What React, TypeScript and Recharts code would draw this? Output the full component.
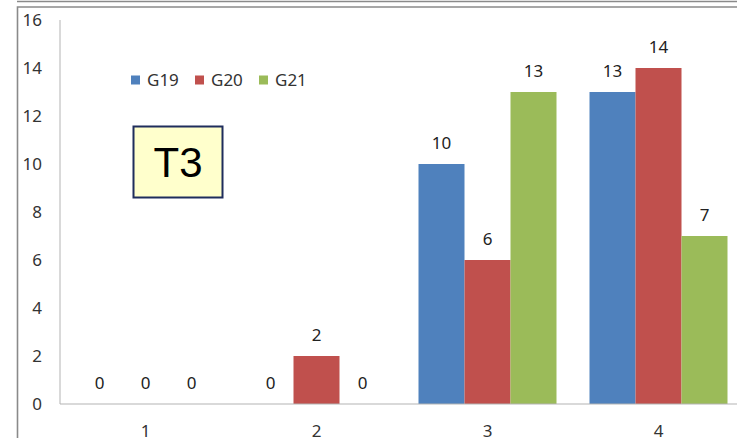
import React from "react";
import { BarChart, Bar, XAxis, YAxis, LabelList, Customized } from "recharts";

// Categories and series values
const categories = ["1", "2", "3", "4"];
const g19 = [0, 0, 10, 13];
const g20 = [0, 2, 6, 14];
const g21 = [0, 0, 13, 7];
const yTicks = [0, 2, 4, 6, 8, 10, 12, 14, 16];

const seriesNames = ["G19", "G20", "G21"];
const seriesColors = ["#4F81BD", "#C0504D", "#9BBB59"];

const data = categories.map((c, i) => ({
  name: c,
  G19: g19[i],
  G20: g20[i],
  G21: g21[i],
}));

const FONT = "'Noto Sans', sans-serif";

// Outer frame lines, legend and the "T3" tag box
const Decorations = () => {
  const legendX = [131, 195, 259];
  return (
    <g>
      <line x1={17} y1={1.5} x2={800} y2={1.5} stroke="#8a8a8a" strokeWidth={1.6} />
      <polyline points="17.5,440 17.5,7 800,7" fill="none" stroke="#8a8a8a" strokeWidth={1.6} />
      {seriesNames.map((n, i) => (
        <g key={n}>
          <rect x={legendX[i]} y={75.5} width={9} height={9} fill={seriesColors[i]} />
          <text x={legendX[i] + 16} y={86} fontFamily={FONT} fontSize={17} fill="#333">
            {n}
          </text>
        </g>
      ))}
      <rect x={133.5} y={126.5} width={89} height={71} fill="#FFFFCC" stroke="#1F2D5C" strokeWidth={2} />
      <text x={178} y={177} textAnchor="middle" fontFamily="'Liberation Sans', Arial, sans-serif" fontSize={42} fill="#000">
        T3
      </text>
    </g>
  );
};

const ValueLabel = (props: any) => {
  const { x, y, width, value } = props;
  return (
    <text x={x + width / 2} y={y - 15} textAnchor="middle" fontFamily={FONT} fontSize={17} fill="#222">
      {value}
    </text>
  );
};

export default function App() {
  return (
    <div style={{ position: "fixed", left: 0, top: 0, width: 737, height: 438, overflow: "hidden", background: "#fff" }}>
      <BarChart
        width={760}
        height={438}
        data={data}
        margin={{ top: 20, right: 16, bottom: 0, left: 0 }}
        barCategoryGap={16.5}
        barGap={0}
      >
        <Customized component={Decorations} />
        <XAxis
          dataKey="name"
          height={34}
          tickLine={false}
          tickSize={0}
          tickMargin={21}
          axisLine={{ stroke: "#b3b3b3", strokeWidth: 1 }}
          tick={{ fontFamily: FONT, fontSize: 17, fill: "#333" }}
        />
        <YAxis
          width={60}
          domain={[0, 16]}
          ticks={yTicks}
          interval={0}
          tickLine={false}
          tickSize={0}
          tickMargin={18}
          axisLine={{ stroke: "#b3b3b3", strokeWidth: 1 }}
          tick={{ fontFamily: FONT, fontSize: 17, fill: "#333" }}
        />
        {seriesNames.map((n, i) => (
          <Bar key={n} dataKey={n} fill={seriesColors[i]} minPointSize={0.01} isAnimationActive={false}>
            <LabelList dataKey={n} content={<ValueLabel />} />
          </Bar>
        ))}
      </BarChart>
    </div>
  );
}
